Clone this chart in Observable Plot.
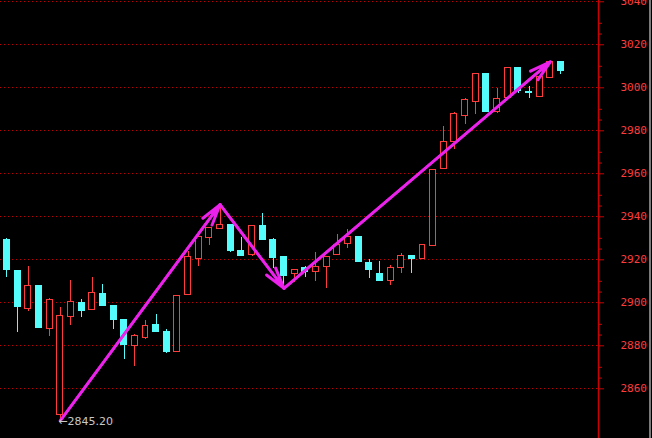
<!DOCTYPE html>
<html><head><meta charset="utf-8">
<script src="https://cdn.jsdelivr.net/npm/d3@7"></script>
<script src="https://cdn.jsdelivr.net/npm/@observablehq/plot@0.6"></script>
<style>
html,body{margin:0;padding:0;background:#000;}
#wrap{position:relative;width:652px;height:438px;overflow:hidden;background:#000;}
#wrap svg{display:block;}
#edge{position:absolute;left:649px;top:0;width:2px;height:438px;background:#7a7a7a;}
</style></head><body>
<div id="wrap"><div id="edge"></div></div>
<script>
// OHLC values per bar
const opens  = [2929.0,2914.6,2897.0,2907.6,2887.7,2847.6,2893.3,2899.7,2896.6,2904.3,2898.3,2892.2,2880.0,2883.7,2889.9,2886.2,2877.2,2903.7,2920.3,2930.0,2934.2,2936.0,2924.3,2922.1,2935.5,2929.0,2921.1,2913.3,2916.0,2914.2,2916.6,2922.1,2927.3,2930.4,2918.3,2913.2,2910.0,2916.3,2922.0,2920.3,2926.5,2962.1,2974.7,2986.8,2993.3,3006.2,2988.7,2995.3,3009.4,2997.9,2995.6,3004.6,3011.8];
const highs  = [2929.9,2914.6,2916.9,2907.6,2902.0,2897.8,2910.4,2901.5,2911.8,2908.5,2898.3,2892.2,2885.3,2891.8,2894.6,2887.6,2903.3,2923.9,2930.4,2934.6,2945.7,2936.0,2930.4,2935.5,2941.5,2929.9,2921.6,2915.3,2916.9,2923.4,2921.4,2931.8,2934.1,2930.9,2920.1,2919.2,2917.3,2922.9,2922.0,2926.7,2962.0,2982.0,2988.5,2995.0,3006.7,3006.2,2999.8,3009.4,3009.4,3000.6,3005.1,3012.1,3012.3];
const lows   = [2911.9,2886.3,2896.0,2888.2,2884.5,2845.2,2889.6,2893.2,2896.6,2898.3,2887.7,2873.6,2870.5,2883.1,2886.3,2876.4,2877.2,2903.7,2916.9,2926.7,2934.2,2923.4,2922.0,2921.7,2929.0,2916.0,2906.7,2909.6,2911.9,2910.0,2906.8,2922.1,2925.4,2918.9,2911.4,2910.0,2908.2,2913.8,2913.8,2920.3,2926.5,2962.1,2971.4,2983.1,2987.7,2988.7,2988.2,2995.3,2997.5,2995.2,2995.6,3004.6,3006.2];
const closes = [2915.2,2898.0,2907.9,2888.2,2901.1,2894.1,2900.6,2896.4,2904.8,2898.3,2892.2,2880.3,2884.7,2889.3,2886.3,2877.3,2903.3,2921.1,2930.4,2934.6,2936.4,2924.0,2922.0,2935.5,2929.0,2920.7,2912.7,2915.3,2914.2,2916.7,2921.4,2927.1,2930.4,2918.9,2915.2,2910.0,2916.0,2922.0,2920.3,2926.7,2962.0,2974.6,2987.6,2994.1,3006.2,2988.7,2994.6,3009.4,2998.4,2997.5,3005.1,3012.1,3008.0];

// y-axis tick labels
const yTicks = [2860,2880,2900,2920,2940,2960,2980,3000,3020,3040];

// swing points joined by the magenta arrows (bar index, price)
const swingIdx = [5,20,26,51];
const swingVal = [2845.2,2945.7,2906.7,3012.1];
const lowLabel = "←2845.20";

const candles = opens.map((o,i)=>({i, o, h:highs[i], l:lows[i], c:closes[i], up: closes[i] >= o}));
const ups = candles.filter(d=>d.up), downs = candles.filter(d=>!d.up);
const swings = swingIdx.map((i,k)=>({i, v:swingVal[k]}));
const segs = d3.pairs(swings).map(([a,b])=>({x1:a.i, y1:a.v, x2:b.i, y2:b.v}));
const minorTicks = yTicks.flatMap(v=>[v+5, v+10]).filter(v=>v<=3040);

const RED="#ff3c3c", CYAN="#55fcfc", GRID="#c00000", AXIS="#cc0000", MAG="#ea22ea";
const xDomain=[-0.61, 55.52];
const hw=0.28;

const chart = Plot.plot({
  width:652, height:438,
  marginTop:0, marginBottom:0, marginLeft:0, marginRight:54,
  style:{background:"#000", overflow:"visible"},
  x:{domain:xDomain, axis:null},
  y:{domain:[2836.9, 3040.6], axis:null},
  marks:[
    Plot.ruleY(yTicks,{stroke:GRID, strokeDasharray:"1,3", shapeRendering:"crispEdges"}),
    Plot.ruleX(downs,{x:"i", y1:"l", y2:"h", stroke:CYAN, shapeRendering:"crispEdges"}),
    Plot.rect(downs,{x1:d=>d.i-hw, x2:d=>d.i+hw, y1:"o", y2:"c", fill:CYAN, stroke:CYAN, shapeRendering:"crispEdges"}),
    Plot.ruleX(ups,{x:"i", y1:"l", y2:"h", stroke:RED, shapeRendering:"crispEdges"}),
    Plot.rect(ups,{x1:d=>d.i-hw, x2:d=>d.i+hw, y1:"o", y2:"c", fill:"#000", stroke:RED, shapeRendering:"crispEdges"}),
    Plot.arrow(segs,{x1:"x1", y1:"y1", x2:"x2", y2:"y2", stroke:MAG, strokeWidth:3, headLength:11, headAngle:30}),
    Plot.arrow(segs,{x1:"x1", y1:"y1", x2:"x2", y2:"y2", stroke:MAG, strokeWidth:2.5, headLength:7, headAngle:20}),
    Plot.text([swings[0]],{x:"i", y:"v", text:()=>lowLabel, textAnchor:"start", dx:-2, dy:1, fill:"#c8c8c8", fontSize:11, fontFamily:"DejaVu Sans"}),
    Plot.ruleX([xDomain[1]],{stroke:AXIS, strokeWidth:1.5}),
    Plot.axisY(minorTicks,{anchor:"right", tickSize:3, tickFormat:()=>"", stroke:AXIS}),
    Plot.axisY(yTicks,{anchor:"right", tickSize:5, tickPadding:17, tickFormat:d=>String(d), stroke:AXIS, fill:RED, fontSize:11, fontFamily:"DejaVu Sans Mono"})
  ]
});
document.getElementById("wrap").prepend(chart);
</script>
</body></html>
